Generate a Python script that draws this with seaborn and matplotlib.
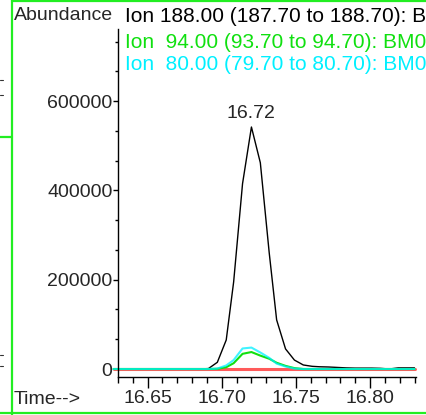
import numpy as np
import pandas as pd
import matplotlib
matplotlib.use("Agg")
import matplotlib.pyplot as plt
from matplotlib.lines import Line2D
from matplotlib.ticker import FixedLocator, MultipleLocator
import seaborn as sns

# ---- data ----
times = [16.627, 16.633, 16.639, 16.645, 16.650, 16.656, 16.662, 16.668, 16.674,
         16.679, 16.685, 16.691, 16.697, 16.703, 16.708, 16.714, 16.720, 16.726,
         16.732, 16.737, 16.743, 16.749, 16.755, 16.761, 16.766, 16.772, 16.778,
         16.784, 16.790, 16.795, 16.801, 16.807, 16.813, 16.819, 16.824, 16.830]
ion188 = [0, 0, 0, 0, 0, 0, 0, 0, 0,
          0, 0, 1000, 15000, 65000, 195000, 415000, 542000, 462000,
          260000, 110000, 45000, 20000, 9000, 6000, 5000, 4500, 3500,
          2500, 2000, 2000, 2000, 1500, 0, 2500, 2500, 2500]
ion_red = [0] * len(times)
ion94 = [0, 0, 0, 0, 0, 0, 0, 0, 0,
         0, 0, 0, 500, 4000, 13000, 34000, 38000, 30000,
         23000, 14000, 7000, 2000, 0, 0, 0, 0, 0,
         0, 0, 0, 0, 0, 0, 0, 0, 0]
ion80 = [0, 0, 0, 0, 0, 0, 0, 0, 0,
         0, 0, 0, 1000, 8000, 20000, 46000, 48000, 37000,
         25000, 12000, 5500, 1000, 0, 0, 0, 0, 0,
         0, 0, 0, 0, 0, 0, 0, 0, 0]
series_names = ["Ion 188", "Ion red", "Ion 94", "Ion 80"]
series_colors = ["#000000", "#ff5a5a", "#10e010", "#00f0ff"]
xtick_vals = [16.65, 16.70, 16.75, 16.80]
xtick_labels = ["16.65", "16.70", "16.75", "16.80"]
ytick_vals = [0, 200000, 400000, 600000]
ytick_labels = ["0", "200000", "400000", "600000"]
title_lines = ["Ion 188.00 (187.70 to 188.70): BM0",
               "Ion  94.00 (93.70 to 94.70): BM0",
               "Ion  80.00 (79.70 to 80.70): BM0"]
peak_label = "16.72"
peak_time = 16.72
peak_value = 542000

df = pd.DataFrame({
    "time": times * 4,
    "abundance": ion188 + ion_red + ion94 + ion80,
    "ion": sum([[n] * len(times) for n in series_names], []),
})

sns.set_style("white")
plt.rcParams["font.family"] = ["Liberation Sans", "DejaVu Sans"]
plt.rcParams["font.size"] = 14

W, H = 426, 415
fig = plt.figure(figsize=(W / 100, H / 100), dpi=100)
ax = fig.add_axes([118 / W, 1 - 377 / H, (416 - 118) / W, (377 - 29) / H])

widths = {"Ion 188": 1.0, "Ion red": 2.2, "Ion 94": 1.5, "Ion 80": 1.5}
alphas = {"Ion 188": 1.0, "Ion red": 1.0, "Ion 94": 1.0, "Ion 80": 0.75}
for name, col in zip(series_names, series_colors):
    sub = df[df["ion"] == name]
    sns.lineplot(data=sub, x="time", y="abundance", color=col, sort=False,
                 linewidth=widths[name], alpha=alphas[name], ax=ax,
                 legend=False, clip_on=False)

ax.set_xlim(16.630, 16.831)
ax.set_ylim(-17900, 761500)
ax.set_xlabel("")
ax.set_ylabel("")

for s in ["top", "right"]:
    ax.spines[s].set_visible(False)
for s in ["left", "bottom"]:
    ax.spines[s].set_color("black")
    ax.spines[s].set_linewidth(1.0)

ax.xaxis.set_major_locator(FixedLocator(xtick_vals))
ax.set_xticklabels(xtick_labels)
ax.xaxis.set_minor_locator(MultipleLocator(0.01))
ax.yaxis.set_major_locator(FixedLocator(ytick_vals))
ax.set_yticklabels(ytick_labels)
ax.yaxis.set_minor_locator(MultipleLocator(200000 / 3))
ax.tick_params(axis="x", which="major", direction="out", length=8, width=1,
               pad=1.5, labelsize=14, bottom=True, color="black")
ax.tick_params(axis="x", which="minor", direction="out", length=4.5, width=1,
               bottom=True, color="black")
ax.tick_params(axis="y", which="major", direction="out", length=3.5, width=1,
               pad=0.5, labelsize=14, left=True, color="black")
ax.tick_params(axis="y", which="minor", direction="out", length=2.5, width=1,
               left=True, color="black")

ax.annotate(peak_label, xy=(peak_time, peak_value), xytext=(0, 10),
            textcoords="offset points", ha="center", va="center", fontsize=14)

# header texts
fig.text(14 / W, 1 - 15 / H, "Abundance", ha="left", va="center", fontsize=14)
title_colors = ["#000000", "#10e010", "#00f0ff"]
title_y = [16, 42, 64]
for t, c, yy in zip(title_lines, title_colors, title_y):
    fig.text(125 / W, 1 - yy / H, t, ha="left", va="center", fontsize=15, color=c)
fig.text(14 / W, 1 - 399 / H, "Time-->", ha="left", va="center", fontsize=14)

# green frame
g = "#22ee22"
def fline(x0, y0, x1, y1, color=g, lw=1.6):
    fig.add_artist(Line2D([x0 / W, x1 / W], [1 - y0 / H, 1 - y1 / H],
                          transform=fig.transFigure, color=color, lw=lw))
fline(11.5, 0, 11.5, 415)
fline(11.5, 0.8, 426, 0.8)
fline(0, 413, 426, 413)
fline(0, 137, 11.5, 137)
for yy in [80, 95, 355, 366]:
    fline(0, yy, 3, yy, color="#333333", lw=0.8)

fig.savefig("out.png", dpi=100)
